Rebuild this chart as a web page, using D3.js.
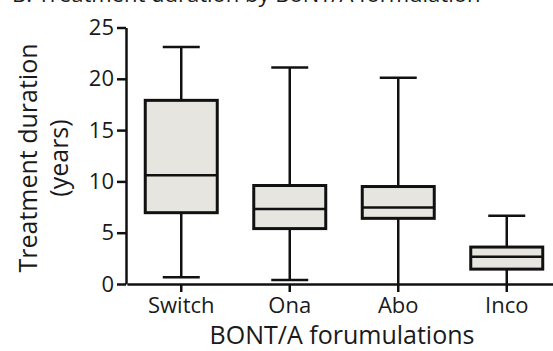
<!DOCTYPE html>
<html>
<head>
<meta charset="utf-8">
<script src="https://cdn.jsdelivr.net/npm/d3@7"></script>
<style>
  body { margin: 0; background: #fff; }
  text { font-family: "Open Sans", sans-serif; fill: #1a1a1a; }
</style>
</head>
<body>
<script>
// box plot data
var groups = ["Switch", "Ona", "Abo", "Inco"];
var whiskerLow = [0.65, 0.4, 0, 0];
var q1 = [6.95, 5.4, 6.4, 1.45];
var median = [10.6, 7.3, 7.45, 2.65];
var q3 = [17.9, 9.6, 9.5, 3.6];
var whiskerHigh = [23.1, 21.1, 20.1, 6.65];
var yTicks = [0, 5, 10, 15, 20, 25];

var width = 553, height = 351;

var svg = d3.select("body").append("svg")
    .attr("width", width)
    .attr("height", height);

// title, mostly cut off at the top of the picture
svg.append("text")
    .attr("x", 12)
    .attr("y", 2)
    .attr("font-size", 22)
    .text("B. Treatment duration by BoNT/A formulation");

var y = d3.scaleLinear().domain([0, 25]).range([284, 27.5]);
var x = d3.scaleBand().domain(groups).range([127, 561]);

var boxW = 72, capW = 37;

// y axis
var yAxis = svg.append("g")
    .attr("transform", "translate(126,0)")
    .call(d3.axisLeft(y).tickValues(yTicks).tickSize(9).tickPadding(3).tickSizeOuter(0));
yAxis.select(".domain").attr("stroke", "#111").attr("stroke-width", 2.5);
yAxis.selectAll(".tick line").attr("stroke", "#111").attr("stroke-width", 2.5);
yAxis.selectAll(".tick text").attr("font-size", 22).attr("fill", "#1a1a1a")
    .attr("font-family", "Open Sans");

// x axis
var xAxis = svg.append("g")
    .attr("transform", "translate(0,284)")
    .call(d3.axisBottom(x).tickSize(8).tickPadding(5).tickSizeOuter(0));
xAxis.select(".domain").attr("stroke", "#111").attr("stroke-width", 2.5);
xAxis.selectAll(".tick line").attr("stroke", "#111").attr("stroke-width", 2.5);
xAxis.selectAll(".tick text").attr("font-size", 22).attr("fill", "#1a1a1a")
    .attr("font-family", "Open Sans");

// boxes
var data = groups.map(function(g, i){
    return {g: g, lo: whiskerLow[i], q1: q1[i], med: median[i], q3: q3[i], hi: whiskerHigh[i]};
});

var box = svg.append("g").selectAll("g").data(data).enter().append("g")
    .attr("transform", function(d){ return "translate(" + (x(d.g) + x.bandwidth()/2) + ",0)"; });

box.append("line")
    .attr("y1", function(d){ return y(d.hi); })
    .attr("y2", function(d){ return y(d.lo); })
    .attr("stroke", "#111").attr("stroke-width", 2.5);

box.append("line")
    .filter(function(d){ return d.lo > 0; })
    .attr("x1", -capW/2).attr("x2", capW/2)
    .attr("y1", function(d){ return y(d.lo); })
    .attr("y2", function(d){ return y(d.lo); })
    .attr("stroke", "#111").attr("stroke-width", 2.5);

box.append("line")
    .attr("x1", -capW/2).attr("x2", capW/2)
    .attr("y1", function(d){ return y(d.hi); })
    .attr("y2", function(d){ return y(d.hi); })
    .attr("stroke", "#111").attr("stroke-width", 2.5);

box.append("rect")
    .attr("x", -boxW/2)
    .attr("width", boxW)
    .attr("y", function(d){ return y(d.q3); })
    .attr("height", function(d){ return y(d.q1) - y(d.q3); })
    .attr("fill", "#e6e5e0")
    .attr("stroke", "#111").attr("stroke-width", 3);

box.append("line")
    .attr("x1", -boxW/2).attr("x2", boxW/2)
    .attr("y1", function(d){ return y(d.med); })
    .attr("y2", function(d){ return y(d.med); })
    .attr("stroke", "#111").attr("stroke-width", 2.5);

// axis titles
svg.append("text")
    .attr("transform", "translate(37,158) rotate(-90)")
    .attr("text-anchor", "middle")
    .attr("font-size", 25)
    .text("Treatment duration");

svg.append("text")
    .attr("transform", "translate(68,158) rotate(-90)")
    .attr("text-anchor", "middle")
    .attr("font-size", 25)
    .text("(years)");

svg.append("text")
    .attr("x", 342)
    .attr("y", 344)
    .attr("text-anchor", "middle")
    .attr("font-size", 25)
    .text("BONT/A forumulations");
</script>
</body>
</html>
